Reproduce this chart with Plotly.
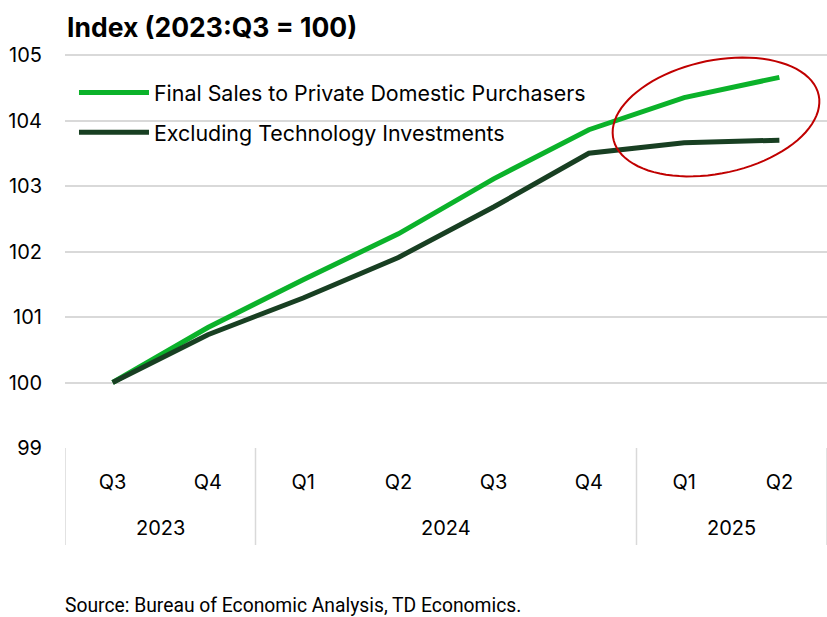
import numpy as np
import plotly.graph_objects as go

years = ["2023", "2023", "2024", "2024", "2024", "2024", "2025", "2025"]
quarters = ["Q3", "Q4", "Q1", "Q2", "Q3", "Q4", "Q1", "Q2"]
final_sales = [100.0, 100.84, 101.57, 102.27, 103.11, 103.86, 104.35, 104.66]
ex_tech = [100.0, 100.73, 101.29, 101.91, 102.68, 103.50, 103.66, 103.70]
y_ticks = [99, 100, 101, 102, 103, 104, 105]

FONT = "Inter"
GREEN = "#0bb22a"
DARK = "#183f22"
GRID = "#d9d9d9"

W, H = 827, 617
L, R, T, B = 65, 0, 40, 169
PW, PH = W - L - R, H - T - B

x_keys = [f"{y} {q}" for y, q in zip(years, quarters)]

fig = go.Figure()
fig.add_trace(go.Scatter(x=x_keys, y=final_sales, mode="lines",
                         name="Final Sales to Private Domestic Purchasers",
                         line=dict(color=GREEN, width=5), legendgroup="a"))
fig.add_trace(go.Scatter(x=x_keys, y=ex_tech, mode="lines",
                         name="Excluding Technology Investments",
                         line=dict(color=DARK, width=5), legendgroup="b"))

def py2paper(y):
    return (H - B - y) / PH

# year group labels and dividers under the quarter labels
div_bottom = py2paper(545)
groups = []
for i, yr in enumerate(years):
    if not groups or groups[-1][0] != yr:
        groups.append([yr, i, i])
    else:
        groups[-1][2] = i
bounds = [g[1] - 0.5 for g in groups] + [groups[-1][2] + 0.5]
for bx in bounds:
    fig.add_shape(type="line", xref="x", yref="paper", x0=bx, x1=bx,
                  y0=0, y1=div_bottom, line=dict(color=GRID, width=1.5))
for yr, i0, i1 in groups:
    fig.add_annotation(text=yr, xref="x", yref="paper", x=(i0 + i1) / 2,
                       y=py2paper(528), xanchor="center", yanchor="middle",
                       showarrow=False, font=dict(family=FONT, size=20, color="#000"))

# tilted ellipse highlight (pixel-space geometry converted to paper coords)
cx, cy, a, b, th = 716, 117, 105, 56.5, np.deg2rad(-12)
t = np.linspace(0, 2 * np.pi, 90)
px = cx + a * np.cos(t) * np.cos(th) - b * np.sin(t) * np.sin(th)
py = cy + a * np.cos(t) * np.sin(th) + b * np.sin(t) * np.cos(th)
ux = (px - L) / PW
uy = py2paper(py)
path = "M" + " L".join(f"{x:.4f},{y:.4f}" for x, y in zip(ux, uy)) + " Z"
fig.add_shape(type="path", path=path, xref="paper", yref="paper",
              line=dict(color="#c00000", width=2))

fig.add_annotation(text="<b>Index (2023:Q3 = 100)</b>", xref="paper", yref="paper",
                   x=0, y=py2paper(27), xanchor="left", yanchor="middle",
                   showarrow=False, font=dict(family=FONT, size=26.5, color="#000"))
fig.add_annotation(text="Source: Bureau of Economic Analysis, TD Economics.",
                   xref="paper", yref="paper", x=-0.003, y=py2paper(605),
                   xanchor="left", yanchor="middle", showarrow=False,
                   font=dict(family="Liberation Sans Narrow, Roboto", size=19.3, color="#000"))

fig.update_layout(
    width=W, height=H,
    margin=dict(l=L, r=R, t=T, b=B),
    paper_bgcolor="white", plot_bgcolor="white",
    font=dict(family=FONT, size=20, color="#000"),
    showlegend=True,
    legend=dict(x=0.0118, y=py2paper(72), xanchor="left", yanchor="top",
                bgcolor="rgba(0,0,0,0)", font=dict(family=FONT, size=21.4, color="#000"),
                tracegroupgap=9, itemwidth=70),
    xaxis=dict(type="category", range=[-0.5, len(x_keys) - 0.5],
               tickvals=x_keys, ticktext=quarters,
               showgrid=False, zeroline=False, showline=False, ticks="",
               ticklabelstandoff=20,
               tickfont=dict(family=FONT, size=20, color="#000")),
    yaxis=dict(range=[99, 105.23], tickvals=y_ticks, showgrid=True,
               gridcolor=GRID, gridwidth=1.5, zeroline=False, showline=False,
               ticks="", ticklabelstandoff=22,
               tickfont=dict(family=FONT, size=20, color="#000")),
)

fig.write_html("out.html", config={"displayModeBar": False},
               post_script="document.body.style.margin='0';")
